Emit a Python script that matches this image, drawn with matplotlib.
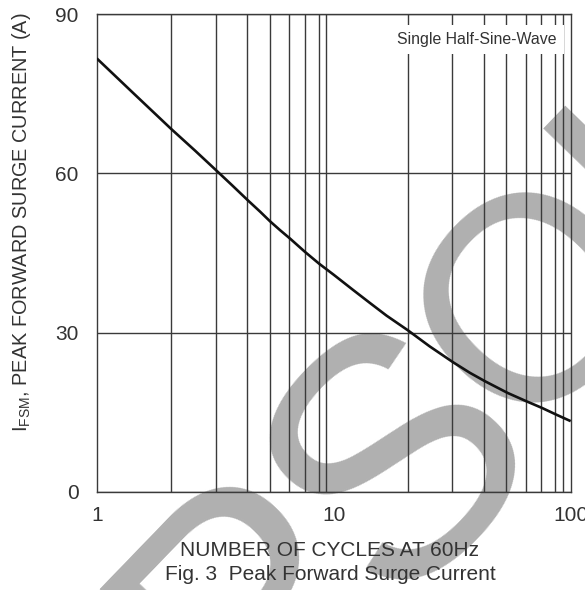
import matplotlib
matplotlib.use("Agg")
import matplotlib.pyplot as plt

# ---- data ----
cycles = [1.0, 1.43, 2.06, 2.60, 3.19, 3.72, 4.35, 4.89, 5.38, 5.94, 6.55, 7.57,
          8.67, 10.0, 12.1, 14.2, 16.7, 20.6, 25.4, 31.9, 37.6, 43.6, 54.3, 65.4,
          75.6, 87.2, 100.0]
ifsm = [81.7, 75.1, 68.4, 64.3, 60.6, 57.8, 54.9, 52.8, 51.0, 49.3, 47.7, 45.2,
        43.0, 40.9, 38.0, 35.6, 33.2, 30.4, 27.4, 24.4, 22.4, 20.8, 18.6, 17.0,
        15.8, 14.5, 13.3]
x_grid = [2.06, 3.2, 4.32, 5.4, 6.5, 7.6, 8.71, 9.32, 10,
          20.5, 31.5, 42.9, 53.2, 64.6, 74.7, 85.6, 92.5]
x_ticks = [1, 10, 100]
x_ticklabels = ["1", "10", "100"]
y_ticks = [0, 30, 60, 90]
y_ticklabels = ["0", "30", "60", "90"]
note = "Single Half-Sine-Wave"
xlabel = "NUMBER OF CYCLES AT 60Hz"
caption = "Fig. 3  Peak Forward Surge Current"
ylabel = r"$\mathregular{I_{FSM}}$, PEAK FORWARD SURGE CURRENT (A)"
watermark_letters = ["P", "S", "O", "I"]

plt.rcParams['font.family'] = ['Liberation Sans', 'DejaVu Sans']
plt.rcParams['mathtext.fontset'] = 'custom'
plt.rcParams['mathtext.rm'] = 'Liberation Sans'

W, H = 585, 590
fig = plt.figure(figsize=(W / 100, H / 100), dpi=100)
fig.patch.set_facecolor('white')
ax = fig.add_axes([96.7 / W, 1 - 491.7 / H, (570.7 - 96.7) / W, (491.7 - 14.3) / H])
ax.set_facecolor('none')

txtc = '#333333'
gridc = '#3a3a3a'

ax.set_xscale('log')
ax.set_xlim(1, 100)
ax.set_ylim(0, 90)
ax.set_xticks(x_ticks)
ax.set_xticklabels(x_ticklabels)
ax.set_xticks(x_grid, minor=True)
ax.set_xticklabels([], minor=True)
ax.set_yticks(y_ticks)
ax.set_yticklabels(y_ticklabels)
ax.tick_params(axis='both', which='both', length=0, labelsize=15, colors=txtc)
ax.tick_params(axis='x', pad=10)
ax.tick_params(axis='y', pad=13)
ax.grid(True, axis='x', which='minor', color=gridc, lw=1.0)
ax.grid(True, axis='y', which='major', color=gridc, lw=1.0)
for s in ax.spines.values():
    s.set_color(gridc)
    s.set_linewidth(1.0)

ax.plot(cycles, ifsm, color='#111111', lw=1.9, zorder=4, solid_capstyle='butt')

ax.text(40.2, 85.2, note, ha='center', va='center', fontsize=11.4, color=txtc,
        bbox=dict(boxstyle='square,pad=0.45', fc='white', ec='none'), zorder=5)

fig.text(330 / W, 1 - 551 / H, xlabel, ha='center', va='center', fontsize=15, color=txtc)
fig.text(330 / W, 1 - 575 / H, caption, ha='center', va='center', fontsize=15, color=txtc)
fig.text(22 / W, 1 - 222 / H, ylabel, ha='center', va='center', rotation=90,
         fontsize=14.3, color=txtc)

# watermark (behind the chart)
wm_pos = [(256, 610), (407, 466), (543, 305), (651, 196)]
wm_size = [245, 245, 210, 245]
for ch, (px, py), fs in zip(watermark_letters, wm_pos, wm_size):
    fig.text(px / W, 1 - py / H, ch, ha='center', va='center', rotation=46,
             rotation_mode='anchor', fontsize=fs, color='#b0b0b0', zorder=-5)

fig.savefig('out.png', dpi=100)
